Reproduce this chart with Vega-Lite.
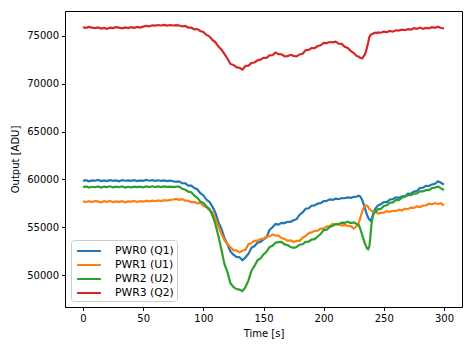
{
  "$schema": "https://vega.github.io/schema/vega-lite/v6.json",
  "width": 397,
  "height": 296,
  "autosize": {"type": "none"},
  "padding": {"left": 65, "top": 11, "right": 11, "bottom": 40},
  "background": "white",
  "config": {
    "font": "DejaVu Sans",
    "view": {"stroke": "black", "strokeWidth": 1},
    "axis": {
      "grid": false,
      "domainColor": "black",
      "tickColor": "black",
      "tickSize": 3.5,
      "labelFontSize": 10,
      "labelColor": "black",
      "titleFontSize": 10,
      "titleFontWeight": "normal",
      "titleColor": "black",
      "labelPadding": 3
    },
    "legend": {
      "labelFontSize": 10.8,
      "labelColor": "black"
    }
  },
  "data": {
    "values": [
      {"t": 0, "PWR0 (Q1)": 59850, "PWR1 (U1)": 57700, "PWR2 (U2)": 59200, "PWR3 (Q2)": 75900},
      {"t": 2.5, "PWR0 (Q1)": 59920, "PWR1 (U1)": 57640, "PWR2 (U2)": 59260, "PWR3 (Q2)": 75850},
      {"t": 5, "PWR0 (Q1)": 59800, "PWR1 (U1)": 57720, "PWR2 (U2)": 59150, "PWR3 (Q2)": 75950},
      {"t": 7.5, "PWR0 (Q1)": 59900, "PWR1 (U1)": 57620, "PWR2 (U2)": 59230, "PWR3 (Q2)": 75880},
      {"t": 10, "PWR0 (Q1)": 59860, "PWR1 (U1)": 57750, "PWR2 (U2)": 59180, "PWR3 (Q2)": 75820},
      {"t": 12.5, "PWR0 (Q1)": 59940, "PWR1 (U1)": 57680, "PWR2 (U2)": 59270, "PWR3 (Q2)": 75900},
      {"t": 15, "PWR0 (Q1)": 59820, "PWR1 (U1)": 57600, "PWR2 (U2)": 59140, "PWR3 (Q2)": 75780},
      {"t": 17.5, "PWR0 (Q1)": 59900, "PWR1 (U1)": 57720, "PWR2 (U2)": 59240, "PWR3 (Q2)": 75850},
      {"t": 20, "PWR0 (Q1)": 59830, "PWR1 (U1)": 57660, "PWR2 (U2)": 59200, "PWR3 (Q2)": 75760},
      {"t": 22.5, "PWR0 (Q1)": 59920, "PWR1 (U1)": 57740, "PWR2 (U2)": 59280, "PWR3 (Q2)": 75880},
      {"t": 25, "PWR0 (Q1)": 59850, "PWR1 (U1)": 57620, "PWR2 (U2)": 59160, "PWR3 (Q2)": 75820},
      {"t": 27.5, "PWR0 (Q1)": 59900, "PWR1 (U1)": 57700, "PWR2 (U2)": 59240, "PWR3 (Q2)": 75930},
      {"t": 30, "PWR0 (Q1)": 59800, "PWR1 (U1)": 57650, "PWR2 (U2)": 59180, "PWR3 (Q2)": 75870},
      {"t": 32.5, "PWR0 (Q1)": 59930, "PWR1 (U1)": 57730, "PWR2 (U2)": 59260, "PWR3 (Q2)": 75800},
      {"t": 35, "PWR0 (Q1)": 59860, "PWR1 (U1)": 57610, "PWR2 (U2)": 59150, "PWR3 (Q2)": 75900},
      {"t": 37.5, "PWR0 (Q1)": 59900, "PWR1 (U1)": 57700, "PWR2 (U2)": 59230, "PWR3 (Q2)": 75830},
      {"t": 40, "PWR0 (Q1)": 59840, "PWR1 (U1)": 57680, "PWR2 (U2)": 59170, "PWR3 (Q2)": 75920},
      {"t": 42.5, "PWR0 (Q1)": 59920, "PWR1 (U1)": 57740, "PWR2 (U2)": 59250, "PWR3 (Q2)": 75860},
      {"t": 45, "PWR0 (Q1)": 59830, "PWR1 (U1)": 57640, "PWR2 (U2)": 59190, "PWR3 (Q2)": 75950},
      {"t": 47.5, "PWR0 (Q1)": 59890, "PWR1 (U1)": 57720, "PWR2 (U2)": 59240, "PWR3 (Q2)": 75880},
      {"t": 50, "PWR0 (Q1)": 59850, "PWR1 (U1)": 57680, "PWR2 (U2)": 59170, "PWR3 (Q2)": 75980},
      {"t": 52.5, "PWR0 (Q1)": 59940, "PWR1 (U1)": 57760, "PWR2 (U2)": 59260, "PWR3 (Q2)": 76050},
      {"t": 55, "PWR0 (Q1)": 59860, "PWR1 (U1)": 57700, "PWR2 (U2)": 59200, "PWR3 (Q2)": 76000},
      {"t": 57.5, "PWR0 (Q1)": 59920, "PWR1 (U1)": 57780, "PWR2 (U2)": 59280, "PWR3 (Q2)": 76120},
      {"t": 60, "PWR0 (Q1)": 59840, "PWR1 (U1)": 57720, "PWR2 (U2)": 59200, "PWR3 (Q2)": 76080},
      {"t": 62.5, "PWR0 (Q1)": 59910, "PWR1 (U1)": 57800, "PWR2 (U2)": 59260, "PWR3 (Q2)": 76150},
      {"t": 65, "PWR0 (Q1)": 59850, "PWR1 (U1)": 57740, "PWR2 (U2)": 59190, "PWR3 (Q2)": 76100},
      {"t": 67.5, "PWR0 (Q1)": 59900, "PWR1 (U1)": 57820, "PWR2 (U2)": 59270, "PWR3 (Q2)": 76160},
      {"t": 70, "PWR0 (Q1)": 59820, "PWR1 (U1)": 57780, "PWR2 (U2)": 59220, "PWR3 (Q2)": 76090},
      {"t": 72.5, "PWR0 (Q1)": 59880, "PWR1 (U1)": 57860, "PWR2 (U2)": 59250, "PWR3 (Q2)": 76150},
      {"t": 75, "PWR0 (Q1)": 59790, "PWR1 (U1)": 57900, "PWR2 (U2)": 59200, "PWR3 (Q2)": 76100},
      {"t": 77.5, "PWR0 (Q1)": 59760, "PWR1 (U1)": 57950, "PWR2 (U2)": 59240, "PWR3 (Q2)": 76140},
      {"t": 80, "PWR0 (Q1)": 59780, "PWR1 (U1)": 57860, "PWR2 (U2)": 59250, "PWR3 (Q2)": 76100},
      {"t": 82.5, "PWR0 (Q1)": 59600, "PWR1 (U1)": 57930, "PWR2 (U2)": 59010, "PWR3 (Q2)": 76000},
      {"t": 85, "PWR0 (Q1)": 59580, "PWR1 (U1)": 57780, "PWR2 (U2)": 58920, "PWR3 (Q2)": 76050},
      {"t": 87.5, "PWR0 (Q1)": 59350, "PWR1 (U1)": 57770, "PWR2 (U2)": 58720, "PWR3 (Q2)": 75870},
      {"t": 90, "PWR0 (Q1)": 59350, "PWR1 (U1)": 57610, "PWR2 (U2)": 58660, "PWR3 (Q2)": 75870},
      {"t": 92.5, "PWR0 (Q1)": 59100, "PWR1 (U1)": 57640, "PWR2 (U2)": 58300, "PWR3 (Q2)": 75690},
      {"t": 95, "PWR0 (Q1)": 58970, "PWR1 (U1)": 57500, "PWR2 (U2)": 58080, "PWR3 (Q2)": 75730},
      {"t": 97.5, "PWR0 (Q1)": 58560, "PWR1 (U1)": 57540, "PWR2 (U2)": 57680, "PWR3 (Q2)": 75530},
      {"t": 100, "PWR0 (Q1)": 58320, "PWR1 (U1)": 57250, "PWR2 (U2)": 57550, "PWR3 (Q2)": 75420},
      {"t": 102.5, "PWR0 (Q1)": 57890, "PWR1 (U1)": 57080, "PWR2 (U2)": 57180, "PWR3 (Q2)": 75110},
      {"t": 105, "PWR0 (Q1)": 57660, "PWR1 (U1)": 56780, "PWR2 (U2)": 56920, "PWR3 (Q2)": 74970},
      {"t": 107.5, "PWR0 (Q1)": 57150, "PWR1 (U1)": 56600, "PWR2 (U2)": 56260, "PWR3 (Q2)": 74590},
      {"t": 110, "PWR0 (Q1)": 56530, "PWR1 (U1)": 55880, "PWR2 (U2)": 55320, "PWR3 (Q2)": 74360},
      {"t": 112.5, "PWR0 (Q1)": 55530, "PWR1 (U1)": 55120, "PWR2 (U2)": 54090, "PWR3 (Q2)": 73900},
      {"t": 115, "PWR0 (Q1)": 54850, "PWR1 (U1)": 54310, "PWR2 (U2)": 52660, "PWR3 (Q2)": 73580},
      {"t": 117.5, "PWR0 (Q1)": 53880, "PWR1 (U1)": 53670, "PWR2 (U2)": 51150, "PWR3 (Q2)": 73130},
      {"t": 120, "PWR0 (Q1)": 53220, "PWR1 (U1)": 53240, "PWR2 (U2)": 50330, "PWR3 (Q2)": 72650},
      {"t": 122.5, "PWR0 (Q1)": 52460, "PWR1 (U1)": 52910, "PWR2 (U2)": 49130, "PWR3 (Q2)": 72080},
      {"t": 125, "PWR0 (Q1)": 52120, "PWR1 (U1)": 52600, "PWR2 (U2)": 48750, "PWR3 (Q2)": 71970},
      {"t": 127.5, "PWR0 (Q1)": 51890, "PWR1 (U1)": 52580, "PWR2 (U2)": 48530, "PWR3 (Q2)": 71740},
      {"t": 130, "PWR0 (Q1)": 51860, "PWR1 (U1)": 52380, "PWR2 (U2)": 48470, "PWR3 (Q2)": 71670},
      {"t": 132.5, "PWR0 (Q1)": 51550, "PWR1 (U1)": 52530, "PWR2 (U2)": 48310, "PWR3 (Q2)": 71490},
      {"t": 135, "PWR0 (Q1)": 51830, "PWR1 (U1)": 52630, "PWR2 (U2)": 48720, "PWR3 (Q2)": 71860},
      {"t": 137.5, "PWR0 (Q1)": 52230, "PWR1 (U1)": 53220, "PWR2 (U2)": 49440, "PWR3 (Q2)": 71900},
      {"t": 140, "PWR0 (Q1)": 52850, "PWR1 (U1)": 53360, "PWR2 (U2)": 50460, "PWR3 (Q2)": 72180},
      {"t": 142.5, "PWR0 (Q1)": 53030, "PWR1 (U1)": 53570, "PWR2 (U2)": 50950, "PWR3 (Q2)": 72230},
      {"t": 145, "PWR0 (Q1)": 53370, "PWR1 (U1)": 53590, "PWR2 (U2)": 51530, "PWR3 (Q2)": 72450},
      {"t": 147.5, "PWR0 (Q1)": 53460, "PWR1 (U1)": 53760, "PWR2 (U2)": 51730, "PWR3 (Q2)": 72530},
      {"t": 150, "PWR0 (Q1)": 53720, "PWR1 (U1)": 53800, "PWR2 (U2)": 52150, "PWR3 (Q2)": 72720},
      {"t": 152.5, "PWR0 (Q1)": 53940, "PWR1 (U1)": 54030, "PWR2 (U2)": 52430, "PWR3 (Q2)": 72710},
      {"t": 155, "PWR0 (Q1)": 54710, "PWR1 (U1)": 54030, "PWR2 (U2)": 52920, "PWR3 (Q2)": 72970},
      {"t": 157.5, "PWR0 (Q1)": 55000, "PWR1 (U1)": 54250, "PWR2 (U2)": 53060, "PWR3 (Q2)": 72990},
      {"t": 160, "PWR0 (Q1)": 55330, "PWR1 (U1)": 54130, "PWR2 (U2)": 53370, "PWR3 (Q2)": 73260},
      {"t": 162.5, "PWR0 (Q1)": 55280, "PWR1 (U1)": 54120, "PWR2 (U2)": 53440, "PWR3 (Q2)": 73100},
      {"t": 165, "PWR0 (Q1)": 55450, "PWR1 (U1)": 53860, "PWR2 (U2)": 53460, "PWR3 (Q2)": 73080},
      {"t": 167.5, "PWR0 (Q1)": 55430, "PWR1 (U1)": 53770, "PWR2 (U2)": 53200, "PWR3 (Q2)": 72880},
      {"t": 170, "PWR0 (Q1)": 55570, "PWR1 (U1)": 53590, "PWR2 (U2)": 53130, "PWR3 (Q2)": 72900},
      {"t": 172.5, "PWR0 (Q1)": 55560, "PWR1 (U1)": 53610, "PWR2 (U2)": 52930, "PWR3 (Q2)": 73030},
      {"t": 175, "PWR0 (Q1)": 55720, "PWR1 (U1)": 53450, "PWR2 (U2)": 52850, "PWR3 (Q2)": 72920},
      {"t": 177.5, "PWR0 (Q1)": 55840, "PWR1 (U1)": 53580, "PWR2 (U2)": 52930, "PWR3 (Q2)": 72860},
      {"t": 180, "PWR0 (Q1)": 56310, "PWR1 (U1)": 53580, "PWR2 (U2)": 53170, "PWR3 (Q2)": 73070},
      {"t": 182.5, "PWR0 (Q1)": 56550, "PWR1 (U1)": 53900, "PWR2 (U2)": 53210, "PWR3 (Q2)": 73140},
      {"t": 185, "PWR0 (Q1)": 56930, "PWR1 (U1)": 54080, "PWR2 (U2)": 53470, "PWR3 (Q2)": 73510},
      {"t": 187.5, "PWR0 (Q1)": 56980, "PWR1 (U1)": 54370, "PWR2 (U2)": 53490, "PWR3 (Q2)": 73550},
      {"t": 190, "PWR0 (Q1)": 57250, "PWR1 (U1)": 54460, "PWR2 (U2)": 53710, "PWR3 (Q2)": 73730},
      {"t": 192.5, "PWR0 (Q1)": 57280, "PWR1 (U1)": 54620, "PWR2 (U2)": 53750, "PWR3 (Q2)": 73730},
      {"t": 195, "PWR0 (Q1)": 57470, "PWR1 (U1)": 54640, "PWR2 (U2)": 54030, "PWR3 (Q2)": 73950},
      {"t": 197.5, "PWR0 (Q1)": 57510, "PWR1 (U1)": 54860, "PWR2 (U2)": 54280, "PWR3 (Q2)": 74030},
      {"t": 200, "PWR0 (Q1)": 57720, "PWR1 (U1)": 54850, "PWR2 (U2)": 54700, "PWR3 (Q2)": 74270},
      {"t": 202.5, "PWR0 (Q1)": 57740, "PWR1 (U1)": 55080, "PWR2 (U2)": 54730, "PWR3 (Q2)": 74260},
      {"t": 205, "PWR0 (Q1)": 57910, "PWR1 (U1)": 55080, "PWR2 (U2)": 55020, "PWR3 (Q2)": 74370},
      {"t": 207.5, "PWR0 (Q1)": 57850, "PWR1 (U1)": 55350, "PWR2 (U2)": 55160, "PWR3 (Q2)": 74340},
      {"t": 210, "PWR0 (Q1)": 57980, "PWR1 (U1)": 55280, "PWR2 (U2)": 55320, "PWR3 (Q2)": 74410},
      {"t": 212.5, "PWR0 (Q1)": 57930, "PWR1 (U1)": 55320, "PWR2 (U2)": 55320, "PWR3 (Q2)": 74200},
      {"t": 215, "PWR0 (Q1)": 58050, "PWR1 (U1)": 55160, "PWR2 (U2)": 55480, "PWR3 (Q2)": 74180},
      {"t": 217.5, "PWR0 (Q1)": 58030, "PWR1 (U1)": 55240, "PWR2 (U2)": 55450, "PWR3 (Q2)": 73880},
      {"t": 220, "PWR0 (Q1)": 58120, "PWR1 (U1)": 55140, "PWR2 (U2)": 55580, "PWR3 (Q2)": 73750},
      {"t": 222.5, "PWR0 (Q1)": 58060, "PWR1 (U1)": 55110, "PWR2 (U2)": 55430, "PWR3 (Q2)": 73430},
      {"t": 225, "PWR0 (Q1)": 58170, "PWR1 (U1)": 54850, "PWR2 (U2)": 55500, "PWR3 (Q2)": 73220},
      {"t": 227.5, "PWR0 (Q1)": 58190, "PWR1 (U1)": 55130, "PWR2 (U2)": 55330, "PWR3 (Q2)": 72910},
      {"t": 229, "PWR0 (Q1)": 58300, "PWR1 (U1)": 55400, "PWR2 (U2)": 55250, "PWR3 (Q2)": 72850},
      {"t": 230, "PWR0 (Q1)": 58250, "PWR1 (U1)": 55800, "PWR2 (U2)": 55000, "PWR3 (Q2)": 72750},
      {"t": 231, "PWR0 (Q1)": 58100, "PWR1 (U1)": 56200, "PWR2 (U2)": 54600, "PWR3 (Q2)": 72700},
      {"t": 232, "PWR0 (Q1)": 57850, "PWR1 (U1)": 56600, "PWR2 (U2)": 54200, "PWR3 (Q2)": 72650},
      {"t": 233, "PWR0 (Q1)": 57500, "PWR1 (U1)": 56950, "PWR2 (U2)": 53800, "PWR3 (Q2)": 72850},
      {"t": 234, "PWR0 (Q1)": 57100, "PWR1 (U1)": 57200, "PWR2 (U2)": 53400, "PWR3 (Q2)": 73000},
      {"t": 235, "PWR0 (Q1)": 56700, "PWR1 (U1)": 57300, "PWR2 (U2)": 53100, "PWR3 (Q2)": 73300},
      {"t": 236, "PWR0 (Q1)": 56300, "PWR1 (U1)": 57250, "PWR2 (U2)": 52800, "PWR3 (Q2)": 73800},
      {"t": 237, "PWR0 (Q1)": 56000, "PWR1 (U1)": 57150, "PWR2 (U2)": 52700, "PWR3 (Q2)": 74300},
      {"t": 238, "PWR0 (Q1)": 55800, "PWR1 (U1)": 56900, "PWR2 (U2)": 53000, "PWR3 (Q2)": 74900},
      {"t": 239, "PWR0 (Q1)": 55700, "PWR1 (U1)": 56800, "PWR2 (U2)": 54200, "PWR3 (Q2)": 75100},
      {"t": 240, "PWR0 (Q1)": 55900, "PWR1 (U1)": 56700, "PWR2 (U2)": 55600, "PWR3 (Q2)": 75200},
      {"t": 241, "PWR0 (Q1)": 56300, "PWR1 (U1)": 56600, "PWR2 (U2)": 56200, "PWR3 (Q2)": 75250},
      {"t": 242, "PWR0 (Q1)": 56700, "PWR1 (U1)": 56600, "PWR2 (U2)": 56500, "PWR3 (Q2)": 75300},
      {"t": 243, "PWR0 (Q1)": 56950, "PWR1 (U1)": 56650, "PWR2 (U2)": 56600, "PWR3 (Q2)": 75350},
      {"t": 244, "PWR0 (Q1)": 57100, "PWR1 (U1)": 56550, "PWR2 (U2)": 56700, "PWR3 (Q2)": 75300},
      {"t": 245, "PWR0 (Q1)": 57260, "PWR1 (U1)": 56430, "PWR2 (U2)": 56870, "PWR3 (Q2)": 75370},
      {"t": 247.5, "PWR0 (Q1)": 57400, "PWR1 (U1)": 56500, "PWR2 (U2)": 56910, "PWR3 (Q2)": 75340},
      {"t": 250, "PWR0 (Q1)": 57630, "PWR1 (U1)": 56530, "PWR2 (U2)": 57220, "PWR3 (Q2)": 75460},
      {"t": 252.5, "PWR0 (Q1)": 57630, "PWR1 (U1)": 56670, "PWR2 (U2)": 57290, "PWR3 (Q2)": 75400},
      {"t": 255, "PWR0 (Q1)": 57900, "PWR1 (U1)": 56610, "PWR2 (U2)": 57560, "PWR3 (Q2)": 75530},
      {"t": 257.5, "PWR0 (Q1)": 57930, "PWR1 (U1)": 56720, "PWR2 (U2)": 57600, "PWR3 (Q2)": 75450},
      {"t": 260, "PWR0 (Q1)": 58120, "PWR1 (U1)": 56690, "PWR2 (U2)": 57830, "PWR3 (Q2)": 75600},
      {"t": 262.5, "PWR0 (Q1)": 58060, "PWR1 (U1)": 56840, "PWR2 (U2)": 57830, "PWR3 (Q2)": 75560},
      {"t": 265, "PWR0 (Q1)": 58220, "PWR1 (U1)": 56750, "PWR2 (U2)": 58100, "PWR3 (Q2)": 75670},
      {"t": 267.5, "PWR0 (Q1)": 58240, "PWR1 (U1)": 56930, "PWR2 (U2)": 58180, "PWR3 (Q2)": 75610},
      {"t": 270, "PWR0 (Q1)": 58510, "PWR1 (U1)": 56880, "PWR2 (U2)": 58370, "PWR3 (Q2)": 75720},
      {"t": 272.5, "PWR0 (Q1)": 58500, "PWR1 (U1)": 57050, "PWR2 (U2)": 58360, "PWR3 (Q2)": 75660},
      {"t": 275, "PWR0 (Q1)": 58730, "PWR1 (U1)": 57030, "PWR2 (U2)": 58520, "PWR3 (Q2)": 75810},
      {"t": 277.5, "PWR0 (Q1)": 58780, "PWR1 (U1)": 57170, "PWR2 (U2)": 58540, "PWR3 (Q2)": 75750},
      {"t": 280, "PWR0 (Q1)": 59100, "PWR1 (U1)": 57110, "PWR2 (U2)": 58760, "PWR3 (Q2)": 75880},
      {"t": 282.5, "PWR0 (Q1)": 59130, "PWR1 (U1)": 57270, "PWR2 (U2)": 58750, "PWR3 (Q2)": 75760},
      {"t": 285, "PWR0 (Q1)": 59320, "PWR1 (U1)": 57290, "PWR2 (U2)": 58880, "PWR3 (Q2)": 75850},
      {"t": 287.5, "PWR0 (Q1)": 59310, "PWR1 (U1)": 57460, "PWR2 (U2)": 58880, "PWR3 (Q2)": 75800},
      {"t": 290, "PWR0 (Q1)": 59470, "PWR1 (U1)": 57400, "PWR2 (U2)": 59100, "PWR3 (Q2)": 75920},
      {"t": 292.5, "PWR0 (Q1)": 59540, "PWR1 (U1)": 57510, "PWR2 (U2)": 59130, "PWR3 (Q2)": 75860},
      {"t": 295, "PWR0 (Q1)": 59810, "PWR1 (U1)": 57430, "PWR2 (U2)": 59270, "PWR3 (Q2)": 75970},
      {"t": 297.5, "PWR0 (Q1)": 59650, "PWR1 (U1)": 57500, "PWR2 (U2)": 59060, "PWR3 (Q2)": 75840},
      {"t": 300, "PWR0 (Q1)": 59450, "PWR1 (U1)": 57250, "PWR2 (U2)": 58900, "PWR3 (Q2)": 75800}
    ]
  },
  "transform": [
    {"fold": ["PWR0 (Q1)", "PWR1 (U1)", "PWR2 (U2)", "PWR3 (Q2)"], "as": ["series", "value"]}
  ],
  "mark": {"type": "line", "strokeWidth": 2.2, "clip": true},
  "encoding": {
    "x": {
      "field": "t",
      "type": "quantitative",
      "title": "Time [s]",
      "scale": {"domain": [-15, 315], "nice": false, "zero": false},
      "axis": {"values": [0, 50, 100, 150, 200, 250, 300], "titlePadding": 5}
    },
    "y": {
      "field": "value",
      "type": "quantitative",
      "title": "Output [ADU]",
      "scale": {"domain": [46653, 77615], "nice": false, "zero": false},
      "axis": {"values": [50000, 55000, 60000, 65000, 70000, 75000], "format": "d", "titlePadding": 6}
    },
    "color": {
      "field": "series",
      "type": "nominal",
      "scale": {
        "domain": ["PWR0 (Q1)", "PWR1 (U1)", "PWR2 (U2)", "PWR3 (Q2)"],
        "range": ["#1f77b4", "#ff7f0e", "#2ca02c", "#d62728"]
      },
      "legend": {
        "title": null,
        "orient": "bottom-left",
        "offset": 6,
        "fillColor": "white",
        "strokeColor": "#cccccc",
        "cornerRadius": 3,
        "padding": 3,
        "symbolType": "M-1.7,0H1.7",
        "symbolStrokeWidth": 2,
        "symbolSize": 196,
        "symbolOffset": 7,
        "labelOffset": 18,
        "rowPadding": 1
      }
    }
  }
}
